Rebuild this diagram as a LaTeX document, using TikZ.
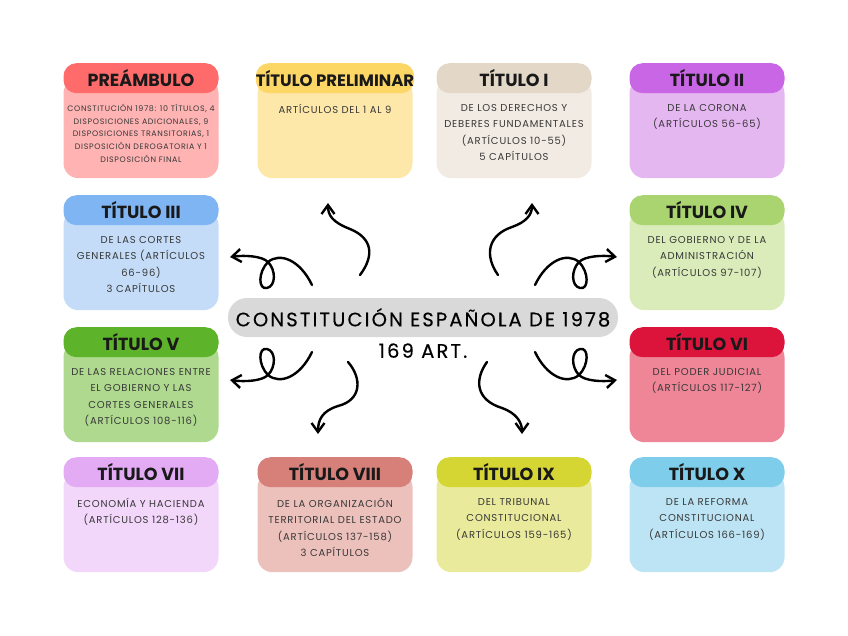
\documentclass[tikz,border=0pt]{standalone}
\usepackage{fontspec}
\setmainfont{Poppins}
\newfontfamily\bodyfont{Poppins}[LetterSpace=8]
\newfontfamily\cenfont{Poppins}[LetterSpace=11, FakeBold=0.4]
\usetikzlibrary{positioning, shapes.geometric, arrows.meta}

\definecolor{preH}{HTML}{FF6B6B}  \definecolor{preB}{HTML}{FFB3B3}
\definecolor{limH}{HTML}{FCD766}  \definecolor{limB}{HTML}{FDE7A9}
\definecolor{tiH}{HTML}{E3D7C7}   \definecolor{tiB}{HTML}{F2EBE3}
\definecolor{tiiH}{HTML}{C966E5}  \definecolor{tiiB}{HTML}{E5B7F1}
\definecolor{tiiiH}{HTML}{80B5F4} \definecolor{tiiiB}{HTML}{C4DCF8}
\definecolor{tivH}{HTML}{A9D470}  \definecolor{tivB}{HTML}{D9ECB9}
\definecolor{tvH}{HTML}{5DB42A}   \definecolor{tvB}{HTML}{AED98F}
\definecolor{tviH}{HTML}{DC143C}  \definecolor{tviB}{HTML}{EE8698}
\definecolor{tviiH}{HTML}{E2ABF4} \definecolor{tviiB}{HTML}{F3D7FB}
\definecolor{tviiiH}{HTML}{D7807A} \definecolor{tviiiB}{HTML}{ECC0BB}
\definecolor{tixH}{HTML}{D5D534}  \definecolor{tixB}{HTML}{EAEA9C}
\definecolor{txH}{HTML}{7ECDEA}   \definecolor{txB}{HTML}{BDE4F4}
\definecolor{cenG}{HTML}{D9D9D9}

\begin{document}
\begin{tikzpicture}[x=1pt, y=-1pt,
  head/.style={rectangle, rounded corners=13pt, minimum width=155pt, minimum height=30pt, anchor=north, inner sep=0pt, font=\bfseries\fontsize{17.5}{18}\selectfont, text=black!90},
  card/.style={rectangle, rounded corners=15pt, minimum width=155pt, minimum height=100pt, anchor=north, inner sep=0pt},
  txt/.style={align=center, inner sep=0pt, font=\bodyfont\fontsize{10}{16.5}\selectfont, text=black!78, execute at begin node={\rule{0pt}{0.95em}}},
  curl/.style={line width=2.4pt, line cap=round, line join=round, -{Straight Barb[length=9pt, width=13pt]}},
  node distance=10.5pt]

  \useasboundingbox (0,0) rectangle (848,636);

  % row 1
  \draw (141,78)  node[card, fill=preB](preC) {};
  \draw (141,63)  node[head, fill=preH](preH) {PREÁMBULO};
  \node[txt, font=\bodyfont\fontsize{7.9}{12.7}\selectfont, below=of preH](preT) {CONSTITUCIÓN 1978: 10 TÍTULOS, 4\\DISPOSICIONES ADICIONALES, 9\\DISPOSICIONES TRANSITORIAS, 1\\DISPOSICIÓN DEROGATORIA Y 1\\DISPOSICIÓN FINAL};

  \draw (335,78)  node[card, fill=limB](limC) {};
  \draw (335,63)  node[head, fill=limH, font=\bfseries\fontsize{16.5}{17}\selectfont](limH) {TÍTULO PRELIMINAR};
  \node[txt, below=of limH](limT) {ARTÍCULOS DEL 1 AL 9};

  \draw (514,78)  node[card, fill=tiB](tiC) {};
  \draw (514,63)  node[head, fill=tiH](tiH) {TÍTULO I};
  \node[txt, below=of tiH](tiT) {DE LOS DERECHOS Y\\DEBERES FUNDAMENTALES\\(ARTÍCULOS 10-55)\\5 CAPÍTULOS};

  \draw (707,78)  node[card, fill=tiiB](tiiC) {};
  \draw (707,63)  node[head, fill=tiiH](tiiH) {TÍTULO II};
  \node[txt, below=of tiiH](tiiT) {DE LA CORONA\\(ARTÍCULOS 56-65)};

  % row 2
  \draw (141,210) node[card, fill=tiiiB](tiiiC) {};
  \draw (141,195) node[head, fill=tiiiH](tiiiH) {TÍTULO III};
  \node[txt, below=of tiiiH](tiiiT) {DE LAS CORTES\\GENERALES (ARTÍCULOS\\66-96)\\3 CAPÍTULOS};

  \draw (707,210) node[card, fill=tivB](tivC) {};
  \draw (707,195) node[head, fill=tivH](tivH) {TÍTULO IV};
  \node[txt, below=of tivH](tivT) {DEL GOBIERNO Y DE LA\\ADMINISTRACIÓN\\(ARTÍCULOS 97-107)};

  % row 3
  \draw (141,342) node[card, fill=tvB](tvC) {};
  \draw (141,327) node[head, fill=tvH](tvH) {TÍTULO V};
  \node[txt, below=of tvH](tvT) {DE LAS RELACIONES ENTRE\\EL GOBIERNO Y LAS\\CORTES GENERALES\\(ARTÍCULOS 108-116)};

  \draw (707,342) node[card, fill=tviB](tviC) {};
  \draw (707,327) node[head, fill=tviH](tviH) {TÍTULO VI};
  \node[txt, below=of tviH](tviT) {DEL PODER JUDICIAL\\(ARTÍCULOS 117-127)};

  % row 4
  \draw (141,472) node[card, fill=tviiB](tviiC) {};
  \draw (141,457) node[head, fill=tviiH](tviiH) {TÍTULO VII};
  \node[txt, below=of tviiH](tviiT) {ECONOMÍA Y HACIENDA\\(ARTÍCULOS 128-136)};

  \draw (335,472) node[card, fill=tviiiB](tviiiC) {};
  \draw (335,457) node[head, fill=tviiiH](tviiiH) {TÍTULO VIII};
  \node[txt, below=of tviiiH](tviiiT) {DE LA ORGANIZACIÓN\\TERRITORIAL DEL ESTADO\\(ARTÍCULOS 137-158)\\3 CAPÍTULOS};

  \draw (514,472) node[card, fill=tixB](tixC) {};
  \draw (514,457) node[head, fill=tixH](tixH) {TÍTULO IX};
  \node[txt, below=of tixH](tixT) {DEL TRIBUNAL\\CONSTITUCIONAL\\(ARTÍCULOS 159-165)};

  \draw (707,472) node[card, fill=txB](txC) {};
  \draw (707,457) node[head, fill=txH](txH) {TÍTULO X};
  \node[txt, below=of txH](txT) {DE LA REFORMA\\CONSTITUCIONAL\\(ARTÍCULOS 166-169)};

  % centre
  \draw (423,317.5) node[rectangle, rounded corners=19pt, fill=cenG, minimum width=390pt, minimum height=39pt, inner sep=0pt, font=\cenfont\fontsize{19.5}{20}\selectfont](cen) {CONSTITUCIÓN ESPAÑOLA DE 1978};
  \node[inner sep=0pt, font=\cenfont\fontsize{19.5}{20}\selectfont, below=6pt of cen](art) {169 ART.};

  % arrow ends
  \coordinate (s1) at (360,275); \coordinate (e1) at (328,203);
  \coordinate (s2) at (498,275); \coordinate (e2) at (532,203);
  \coordinate (s3) at (312,285); \coordinate (e3) at (230,257);
  \coordinate (s4) at (535,285); \coordinate (e4) at (617,257);
  \coordinate (s5) at (312,352); \coordinate (e5) at (230,380);
  \coordinate (s6) at (535,352); \coordinate (e6) at (617,380);
  \coordinate (s7) at (348,362); \coordinate (e7) at (318,434);
  \coordinate (s8) at (487,362); \coordinate (e8) at (522,434);

  \draw[curl] (s1) .. controls (375,255) and (372,238) .. (350,229) .. controls (332,222) and (328,215) .. (e1);
  \draw[curl] (s2) .. controls (484,255) and (488,235) .. (512,227) .. controls (526,222) and (532,215) .. (e2);
  \draw[curl] (s3) .. controls (300,260) and (280,252) .. (268,262) .. controls (258,272) and (258,290) .. (267,288)
              .. controls (276,286) and (276,270) .. (268,262) .. controls (262,256) and (245,255) .. (e3);
  \draw[curl] (s4) .. controls (547,260) and (567,252) .. (579,262) .. controls (589,272) and (589,290) .. (580,288)
              .. controls (571,286) and (571,270) .. (579,262) .. controls (585,256) and (602,255) .. (e4);
  \draw[curl] (s5) .. controls (300,377) and (280,385) .. (268,375) .. controls (258,365) and (258,347) .. (267,349)
              .. controls (276,351) and (276,367) .. (268,375) .. controls (262,381) and (245,382) .. (e5);
  \draw[curl] (s6) .. controls (547,377) and (567,385) .. (579,375) .. controls (589,365) and (589,347) .. (580,349)
              .. controls (571,351) and (571,367) .. (579,375) .. controls (585,381) and (602,382) .. (e6);
  \draw[curl] (s7) .. controls (362,378) and (362,400) .. (338,406) .. controls (322,411) and (318,420) .. (e7);
  \draw[curl] (s8) .. controls (474,380) and (476,400) .. (502,408) .. controls (516,413) and (522,422) .. (e8);
\end{tikzpicture}
\end{document}
